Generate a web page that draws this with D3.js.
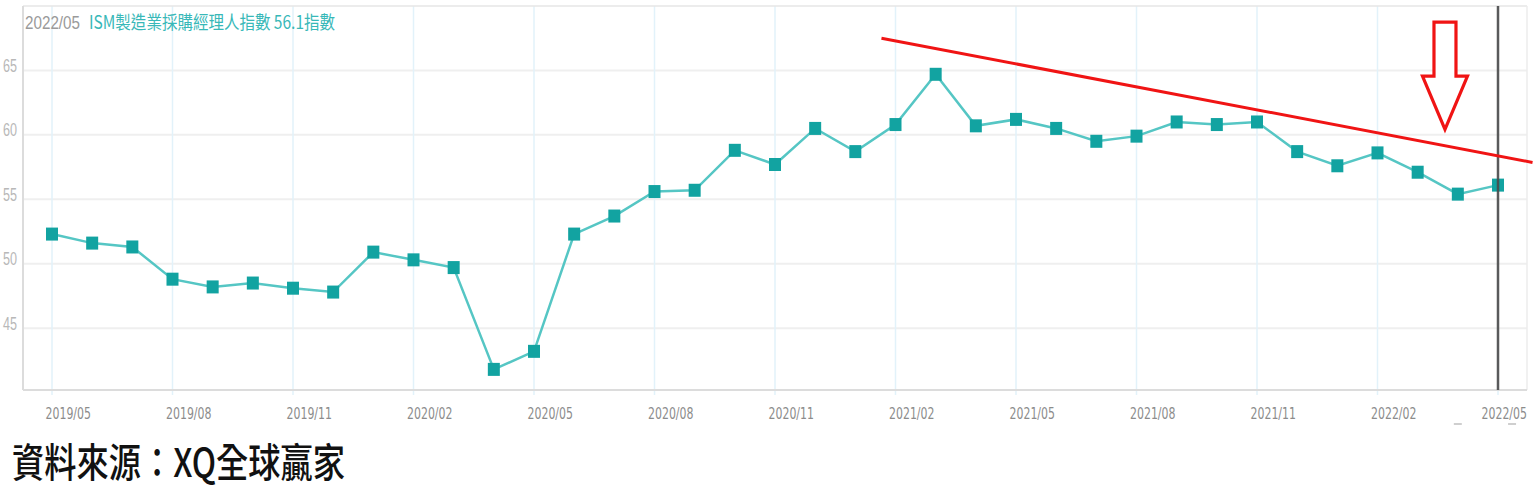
<!DOCTYPE html>
<html>
<head>
<meta charset="utf-8">
<script src="https://cdn.jsdelivr.net/npm/d3@7"></script>
<style>
  html, body { margin: 0; padding: 0; background: #fff; }
  svg { display: block; }
</style>
</head>
<body>
<svg id="chart" width="1536" height="500"></svg>
<script>
// ---------- data ----------
const months = [
  "2019/05","2019/06","2019/07","2019/08","2019/09","2019/10","2019/11","2019/12",
  "2020/01","2020/02","2020/03","2020/04","2020/05","2020/06","2020/07","2020/08",
  "2020/09","2020/10","2020/11","2020/12","2021/01","2021/02","2021/03","2021/04",
  "2021/05","2021/06","2021/07","2021/08","2021/09","2021/10","2021/11","2021/12",
  "2022/01","2022/02","2022/03","2022/04","2022/05"
];
const pmiValues = [
  52.3, 51.6, 51.3, 48.8, 48.2, 48.5, 48.1, 47.8,
  50.9, 50.3, 49.7, 41.8, 43.2, 52.3, 53.7, 55.6,
  55.7, 58.8, 57.7, 60.5, 58.7, 60.8, 64.7, 60.7,
  61.2, 60.5, 59.5, 59.9, 61.0, 60.8, 61.0, 58.7,
  57.6, 58.6, 57.1, 55.4, 56.1
];
const xTickLabels = ["2019/05","2019/08","2019/11","2020/02","2020/05","2020/08","2020/11",
                     "2021/02","2021/05","2021/08","2021/11","2022/02","2022/05"];
const yTickValues = [45, 50, 55, 60, 65];
const titleDate = "2022/05";
const titleText = "ISM製造業採購經理人指數 56.1指數";
const sourceText = "資料來源：XQ全球贏家";
// annotations (in month-index / value space)
const trendIdx = [20.65, 36.86];
const trendVal = [67.5, 57.86];
const arrowIdx = 34.68, arrowTopVal = 68.75, arrowTipVal = 60.43;
const cursorMonth = "2022/05";
const dashMarkIdx = [35, 36.35];

// ---------- layout ----------
const svg = d3.select("#chart");
const plotL = 23, plotR = 1527, plotT = 6, plotB = 390;

const x = d3.scaleLinear().domain([0, months.length - 1]).range([52, 1498]);
const y = d3.scaleLinear().domain([40.2, 70]).range([plotB, plotT]);

// horizontal grid
svg.append("g").selectAll("line").data(yTickValues).join("line")
  .attr("x1", plotL).attr("x2", plotR)
  .attr("y1", d => y(d)).attr("y2", d => y(d))
  .attr("stroke", "#efefef").attr("stroke-width", 2);

// vertical grid
const tickIdx = xTickLabels.map(l => months.indexOf(l));
svg.append("g").selectAll("line").data(tickIdx).join("line")
  .attr("x1", d => x(d)).attr("x2", d => x(d))
  .attr("y1", plotT).attr("y2", plotB + 5)
  .attr("stroke", "#e2f2fa").attr("stroke-width", 1.5);

// plot frame
svg.append("line").attr("x1", plotL).attr("x2", plotR).attr("y1", plotT).attr("y2", plotT)
  .attr("stroke", "#e6e6e6").attr("stroke-width", 1.5);
svg.append("line").attr("x1", plotR).attr("x2", plotR).attr("y1", plotT).attr("y2", plotB)
  .attr("stroke", "#ececec").attr("stroke-width", 1.5);
svg.append("line").attr("x1", plotL).attr("x2", plotL).attr("y1", plotT).attr("y2", plotB)
  .attr("stroke", "#dcdcdc").attr("stroke-width", 2);
svg.append("line").attr("x1", plotL).attr("x2", plotR).attr("y1", plotB).attr("y2", plotB)
  .attr("stroke", "#dcdcdc").attr("stroke-width", 2);

// y tick labels
svg.append("g").selectAll("text").data(yTickValues).join("text")
  .attr("x", 3).attr("y", d => y(d) + 1.5)
  .attr("font-family", "Liberation Sans, Arial, sans-serif")
  .attr("font-size", 18)
  .attr("fill", "#b8b8b8")
  .attr("textLength", 14).attr("lengthAdjust", "spacingAndGlyphs")
  .text(d => d);

// x axis labels (horizontally condensed)
const sx = 0.73;
const xAxis = d3.axisBottom(x).tickValues(tickIdx).tickFormat(i => months[i]).tickSize(0);
const gx = svg.append("g").attr("transform", `translate(0,${plotB})`).call(xAxis);
gx.select(".domain").remove();
gx.selectAll("text")
  .attr("font-family", "DejaVu Sans, Verdana, sans-serif")
  .attr("font-size", 15)
  .attr("fill", "#8c8c8c")
  .attr("text-anchor", "start")
  .attr("dy", null)
  .attr("y", 29)
  .attr("transform", `scale(${sx},1)`)
  .attr("x", (d, i) => (i === tickIdx.length - 1 ? -17 : -7) / sx);

// small dash marks under the last labels
svg.append("g").selectAll("line").data(dashMarkIdx).join("line")
  .attr("x1", d => x(d) - 4).attr("x2", d => x(d) + 4)
  .attr("y1", plotB + 34).attr("y2", plotB + 34)
  .attr("stroke", "#b0b0b0").attr("stroke-width", 1.2);

// series line
const line = d3.line().x((d, i) => x(i)).y(d => y(d));
svg.append("path").datum(pmiValues)
  .attr("d", line).attr("fill", "none")
  .attr("stroke", "#55c6c4").attr("stroke-width", 2.5);

// markers
svg.append("g").selectAll("rect").data(pmiValues).join("rect")
  .attr("x", (d, i) => x(i) - 6).attr("y", d => y(d) - 6.5)
  .attr("width", 12).attr("height", 13)
  .attr("fill", "#12a3a1");

// cursor line
const ci = months.indexOf(cursorMonth);
svg.append("line").attr("x1", x(ci)).attr("x2", x(ci)).attr("y1", plotT).attr("y2", plotB)
  .attr("stroke", "#4a4a4a").attr("stroke-width", 2.5).attr("opacity", 0.9);

// red trend line
svg.append("line")
  .attr("x1", x(trendIdx[0])).attr("y1", y(trendVal[0]))
  .attr("x2", x(trendIdx[1])).attr("y2", y(trendVal[1]))
  .attr("stroke", "#f01414").attr("stroke-width", 3);

// red hollow down arrow
const ax = x(arrowIdx), aTop = y(arrowTopVal), aTip = y(arrowTipVal);
const shaftHW = 11, headHW = 22.5, shaftBot = aTop + 54;
const arrowPts = [
  [ax - shaftHW, aTop], [ax + shaftHW, aTop], [ax + shaftHW, shaftBot],
  [ax + headHW, shaftBot], [ax, aTip], [ax - headHW, shaftBot], [ax - shaftHW, shaftBot]
];
svg.append("path")
  .attr("d", "M" + arrowPts.map(p => p.join(",")).join("L") + "Z")
  .attr("fill", "#fff").attr("stroke", "#f01414").attr("stroke-width", 3.2)
  .attr("stroke-linejoin", "miter");

// title
svg.append("text").attr("x", 25).attr("y", 29)
  .attr("font-family", "Liberation Sans, Arial, sans-serif").attr("font-size", 19)
  .attr("fill", "#9a9a9a")
  .attr("textLength", 55).attr("lengthAdjust", "spacingAndGlyphs")
  .text(titleDate);
svg.append("text").attr("x", 89).attr("y", 29)
  .attr("font-family", "Noto Sans CJK TC, Liberation Sans, sans-serif").attr("font-size", 18)
  .attr("fill", "#38b8b8")
  .attr("textLength", 246).attr("lengthAdjust", "spacingAndGlyphs")
  .text(titleText);

// source
svg.append("text").attr("x", 12).attr("y", 477)
  .attr("font-family", "Noto Sans CJK TC, sans-serif").attr("font-size", 40)
  .attr("font-weight", 500)
  .attr("fill", "#111")
  .attr("textLength", 333).attr("lengthAdjust", "spacingAndGlyphs")
  .text(sourceText);
</script>
</body>
</html>
